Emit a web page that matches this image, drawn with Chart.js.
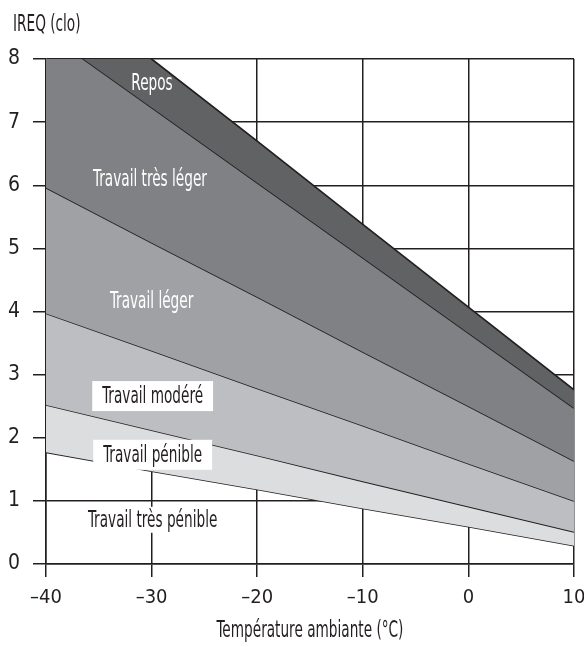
<!DOCTYPE html>
<html>
<head>
<meta charset="utf-8">
<script src="https://cdn.jsdelivr.net/npm/chart.js@4/dist/chart.umd.min.js"></script>
<style>
  html, body { margin: 0; padding: 0; background: #ffffff; }
  #wrap { width: 584px; height: 647px; }
</style>
</head>
<body>
<div id="wrap"><canvas id="c" width="584" height="647"></canvas></div>
<script>
// Temperatures (°C)
const temperatures = [-40, -30, -20, -10, 0, 10];
// Boundary curves of IREQ (clo) (top to bottom)
const reposTop        = [9.31, 8.00, 6.70, 5.38, 4.07, 2.76];
const tresLegerTop    = [8.42, 7.23, 6.04, 4.85, 3.66, 2.47];
const legerTop        = [5.96, 5.09, 4.23, 3.36, 2.50, 1.63];
const modereTop       = [3.97, 3.38, 2.78, 2.19, 1.59, 1.00];
const penibleTop      = [2.52, 2.12, 1.72, 1.31, 0.91, 0.51];
const tresPenibleTop  = [1.77, 1.47, 1.18, 0.88, 0.59, 0.29];

const bandColors = ['#616264', '#808184', '#a0a1a4', '#bdbec1', '#dcdddf', 'rgba(0,0,0,0)'];
const curves = [reposTop, tresLegerTop, legerTop, modereTop, penibleTop, tresPenibleTop];

// Zone labels
const zoneLabels = ['Repos', 'Travail très léger', 'Travail léger', 'Travail modéré', 'Travail pénible', 'Travail très pénible'];
const zoneLabelX = [-29.96, -30.15, -30.0, -29.9, -29.9, -29.9];
const zoneLabelY = [7.62, 6.10, 4.17, 2.66, 1.73, 0.70];
const zoneLabelColor = ['#ffffff', '#ffffff', '#ffffff', '#231f20', '#231f20', '#231f20'];
const zoneLabelBox = [false, false, false, true, true, true];

const yTitle = 'IREQ (clo)';
const xTitle = 'Température ambiante (°C)';

const FONT = '"DejaVu Sans Condensed", "DejaVu Sans", sans-serif';
const INK = '#231f20';
const CONDENSE = 0.66;

const datasets = curves.map((vals, i) => ({
  data: temperatures.map((t, j) => ({ x: t, y: vals[j] })),
  borderColor: INK,
  borderWidth: 1.7,
  backgroundColor: bandColors[i],
  pointRadius: 0,
  tension: 0,
  fill: i < curves.length - 1 ? { target: '+1' } : false
}));

function drawCondensed(ctx, txt, x, y, align) {
  ctx.save();
  ctx.translate(x, y);
  ctx.scale(CONDENSE, 1);
  ctx.textAlign = align;
  ctx.fillText(txt, 0, 0);
  ctx.restore();
}

const labelPlugin = {
  id: 'zoneLabels',
  afterDraw(chart) {
    const ctx = chart.ctx;
    const xs = chart.scales.x, ys = chart.scales.y;
    const area = chart.chartArea;
    ctx.save();
    ctx.font = '23px ' + FONT;
    ctx.textBaseline = 'middle';
    zoneLabels.forEach((txt, i) => {
      const px = xs.getPixelForValue(zoneLabelX[i]);
      const py = ys.getPixelForValue(zoneLabelY[i]);
      const w = ctx.measureText(txt).width * CONDENSE;
      if (zoneLabelBox[i]) {
        ctx.fillStyle = '#ffffff';
        const h = i === 5 ? 26 : 30;
        ctx.fillRect(px - w / 2 - 10, py - h / 2, w + 20, h);
      }
      ctx.fillStyle = zoneLabelColor[i];
      drawCondensed(ctx, txt, px, py + 1, 'center');
    });
    // axis titles
    ctx.fillStyle = INK;
    drawCondensed(ctx, yTitle, 13, 25, 'left');
    drawCondensed(ctx, xTitle, (area.left + area.right) / 2, 631, 'center');
    ctx.restore();
  }
};

new Chart(document.getElementById('c'), {
  type: 'line',
  data: { datasets },
  plugins: [labelPlugin],
  options: {
    responsive: false,
    animation: false,
    devicePixelRatio: 1,
    layout: { padding: { left: 0, right: 10, top: 59, bottom: 0 } },
    plugins: {
      legend: { display: false },
      tooltip: { enabled: false },
      title: { display: false }
    },
    scales: {
      x: {
        type: 'linear',
        min: -40, max: 10,
        z: 1,
        afterFit: s => { s.height = 83; s.paddingRight = 0; s.paddingLeft = 0; },
        ticks: {
          stepSize: 10,
          color: INK,
          padding: 9,
          maxRotation: 0,
          font: { family: FONT, size: 20 },
          callback: v => v < 0 ? '\u2013' + Math.abs(v) : String(v)
        },
        grid: { color: INK, lineWidth: 1.5, tickLength: 13, drawTicks: true },
        border: { display: true, color: INK, width: 1.5 }
      },
      y: {
        min: 0, max: 8,
        z: 1,
        afterFit: s => { s.width = 46; },
        ticks: {
          stepSize: 1,
          color: INK,
          padding: 13,
          font: { family: FONT, size: 21 }
        },
        grid: { color: INK, lineWidth: 1.5, tickLength: 13, drawTicks: true },
        border: { display: true, color: INK, width: 1.5 }
      }
    }
  }
});
</script>
</body>
</html>
